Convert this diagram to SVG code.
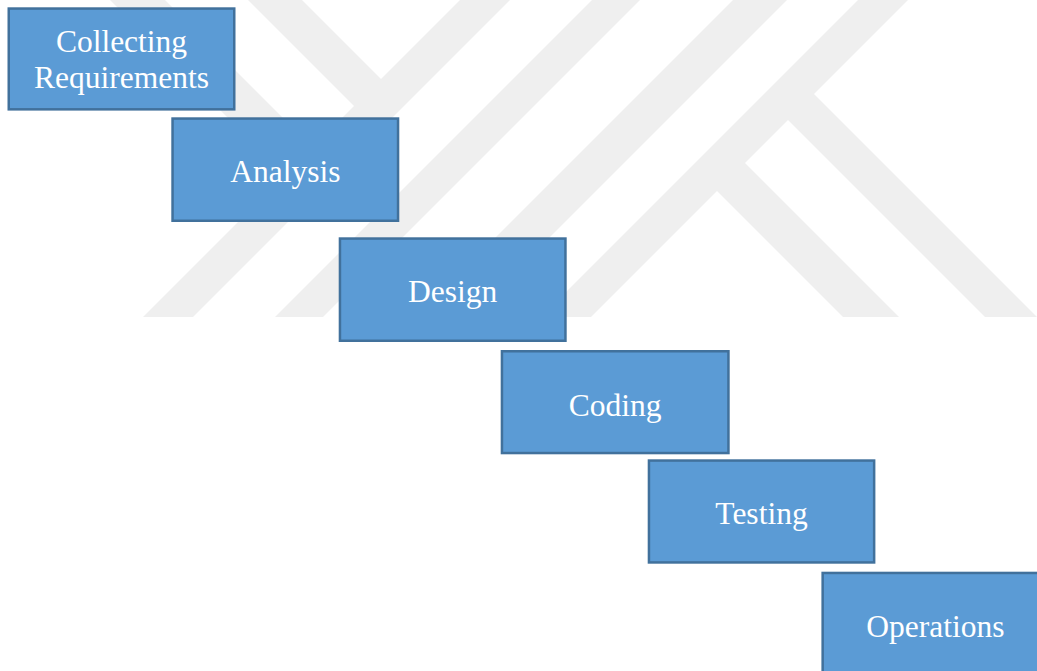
<svg xmlns="http://www.w3.org/2000/svg" width="1037" height="671" viewBox="0 0 1037 671">
  <style>
    .band { fill: #EFEFEF; stroke: none; }
    .step rect { fill: #5B9BD5; stroke: #41719C; stroke-width: 2.5; }
    .step text { font-family: "Liberation Serif", "Times New Roman", serif; font-size: 31.5px; fill: #FFFFFF; text-anchor: middle; }
  </style>

  <rect x="0" y="0" width="1037" height="671" fill="#FFFFFF"/>

  <!-- faint striped background emblem -->
  <g id="background-emblem">
    <polygon class="band" points="460,0 510,0 193,317 143,317"/>
    <polygon class="band" points="592,0 640,0 323,317 275,317"/>
    <polygon class="band" points="733,0 787,0 470,317 416,317"/>
    <polygon class="band" points="858,0 908,0 591,317 541,317"/>
    <polygon class="band" points="110,0 165,0 317.5,152.5 290,180"/>
    <polygon class="band" points="248,0 302,0 386,84 359,111"/>
    <polygon class="band" points="810,90 1037,317 985,317 784,116"/>
    <polygon class="band" points="741,159 899,317 843,317 713,187"/>
  </g>

  <!-- waterfall stages -->
  <g id="collecting-requirements" class="step">
    <rect x="8.75" y="8.55" width="225.5" height="100.8"/>
    <text x="121.5" y="51.7">Collecting</text>
    <text x="121.5" y="88.3">Requirements</text>
  </g>

  <g id="analysis" class="step">
    <rect x="172.55" y="118.55" width="225.5" height="102.2"/>
    <text x="285.3" y="181.7">Analysis</text>
  </g>

  <g id="design" class="step">
    <rect x="339.95" y="238.55" width="225.5" height="102.2"/>
    <text x="452.7" y="301.7">Design</text>
  </g>

  <g id="coding" class="step">
    <rect x="501.95" y="351.25" width="226.5" height="101.8"/>
    <text x="615.2" y="416">Coding</text>
  </g>

  <g id="testing" class="step">
    <rect x="648.95" y="460.55" width="225.2" height="101.9"/>
    <text x="761.5" y="524">Testing</text>
  </g>

  <g id="operations" class="step">
    <rect x="822.65" y="572.95" width="225.5" height="101.5"/>
    <text x="935.4" y="636.5">Operations</text>
  </g>

  <g id="connectors"/>
</svg>
